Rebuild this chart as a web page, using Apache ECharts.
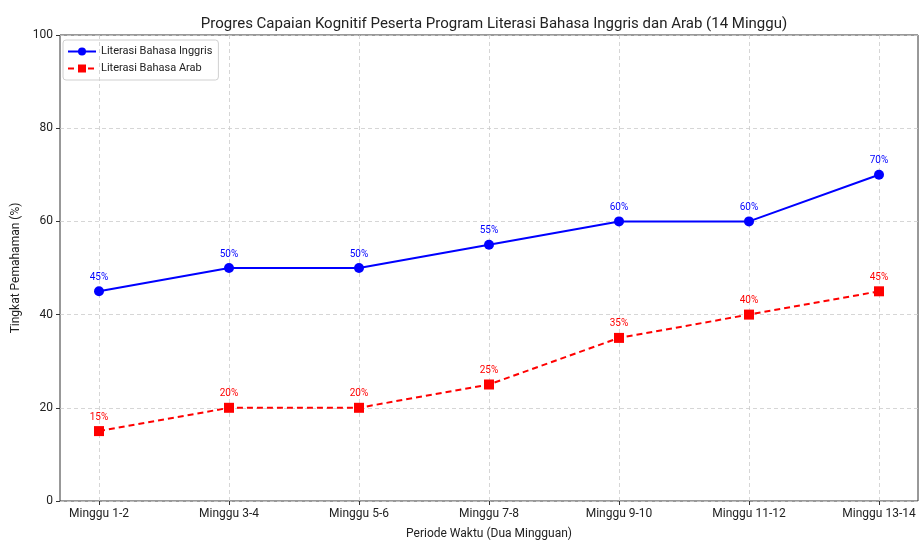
<!DOCTYPE html>
<html>
<head>
<meta charset="utf-8">
<script src="https://cdn.jsdelivr.net/npm/echarts@6/dist/echarts.min.js"></script>
<style>
  html, body { margin: 0; padding: 0; background: #fff; }
  #main { width: 920px; height: 541px; }
</style>
</head>
<body>
<div id="main"></div>
<script>
// data
var periode = ['Minggu 1-2', 'Minggu 3-4', 'Minggu 5-6', 'Minggu 7-8', 'Minggu 9-10', 'Minggu 11-12', 'Minggu 13-14'];
var inggris = [45, 50, 50, 55, 60, 60, 70];
var arab = [15, 20, 20, 25, 35, 40, 45];
var yTicks = [0, 20, 40, 60, 80, 100];

var font = 'Roboto, "Noto Sans", sans-serif';
var myChart = echarts.init(document.getElementById('main'));

var option = {
    backgroundColor: '#fff',
    textStyle: { fontFamily: font },
    title: {
        text: 'Progres Capaian Kognitif Peserta Program Literasi Bahasa Inggris dan Arab (14 Minggu)',
        left: 489, top: 12, textAlign: 'center',
        textStyle: { fontSize: 15, fontWeight: 'normal', color: '#222', fontFamily: font }
    },
    legend: {
        left: 63, top: 40, orient: 'vertical',
        padding: [6, 6, 6, 4], itemGap: 6,
        itemWidth: 28, itemHeight: 10,
        borderColor: '#d0d0d0', borderWidth: 1, borderRadius: 3,
        textStyle: { fontSize: 11, color: '#222', fontFamily: font },
        data: ['Literasi Bahasa Inggris', 'Literasi Bahasa Arab']
    },
    grid: [
        // data area (category centres)
        { left: 99, right: 41, top: 35, bottom: 40, outerBoundsMode: 'none' },
        // frame
        { left: 60, right: 2, top: 35, bottom: 40, outerBoundsMode: 'none', show: true, borderColor: '#333', borderWidth: 1, backgroundColor: 'transparent' }
    ],
    xAxis: [
        {
            gridIndex: 0, type: 'category', data: periode, boundaryGap: false,
            axisLine: { show: false },
            axisTick: { show: true, length: 4, alignWithLabel: true, lineStyle: { color: '#333' } },
            axisLabel: { fontSize: 12, color: '#222', margin: 7, fontFamily: font },
            splitLine: { show: true, lineStyle: { color: '#cccccc', type: [4, 3], width: 0.8 } }
        },
        {
            gridIndex: 1, type: 'value', min: 0, max: 1,
            axisLine: { show: false }, axisTick: { show: false }, axisLabel: { show: false },
            splitLine: { show: false },
            name: 'Periode Waktu (Dua Mingguan)', nameLocation: 'middle', nameGap: 27,
            nameTextStyle: { fontSize: 12, color: '#222', fontFamily: font }
        }
    ],
    yAxis: [
        { gridIndex: 0, type: 'value', min: 0, max: 100, interval: 20, show: false },
        {
            gridIndex: 1, type: 'value', min: 0, max: 100, interval: 20,
            axisLine: { show: false },
            axisTick: { show: true, length: 4, lineStyle: { color: '#333' } },
            axisLabel: { fontSize: 12, color: '#222', margin: 7, fontFamily: font,
                formatter: function (v) { return yTicks.indexOf(v) >= 0 ? String(v) : ''; } },
            splitLine: { show: true, lineStyle: { color: '#cccccc', type: [4, 3], width: 0.8 } },
            name: 'Tingkat Pemahaman (%)', nameLocation: 'middle', nameGap: 36, nameRotate: 90,
            nameTextStyle: { fontSize: 12, color: '#222', fontFamily: font }
        }
    ],
    series: [
        {
            name: 'Literasi Bahasa Inggris', type: 'line', xAxisIndex: 0, yAxisIndex: 0,
            data: inggris, symbol: 'circle', symbolSize: 10,
            itemStyle: { color: '#0000ff' },
            lineStyle: { color: '#0000ff', width: 2 },
            label: { show: true, position: 'top', distance: 4, formatter: '{c}%', color: '#0000ff', fontSize: 10, fontFamily: font },
            animation: false
        },
        {
            name: 'Literasi Bahasa Arab', type: 'line', xAxisIndex: 0, yAxisIndex: 0,
            data: arab, symbol: 'rect', symbolSize: 10,
            itemStyle: { color: '#ff0000' },
            lineStyle: { color: '#ff0000', width: 2, type: [6, 4] },
            label: { show: true, position: 'top', distance: 4, formatter: '{c}%', color: '#ff0000', fontSize: 10, fontFamily: font },
            animation: false
        }
    ]
};
myChart.setOption(option);
</script>
</body>
</html>
